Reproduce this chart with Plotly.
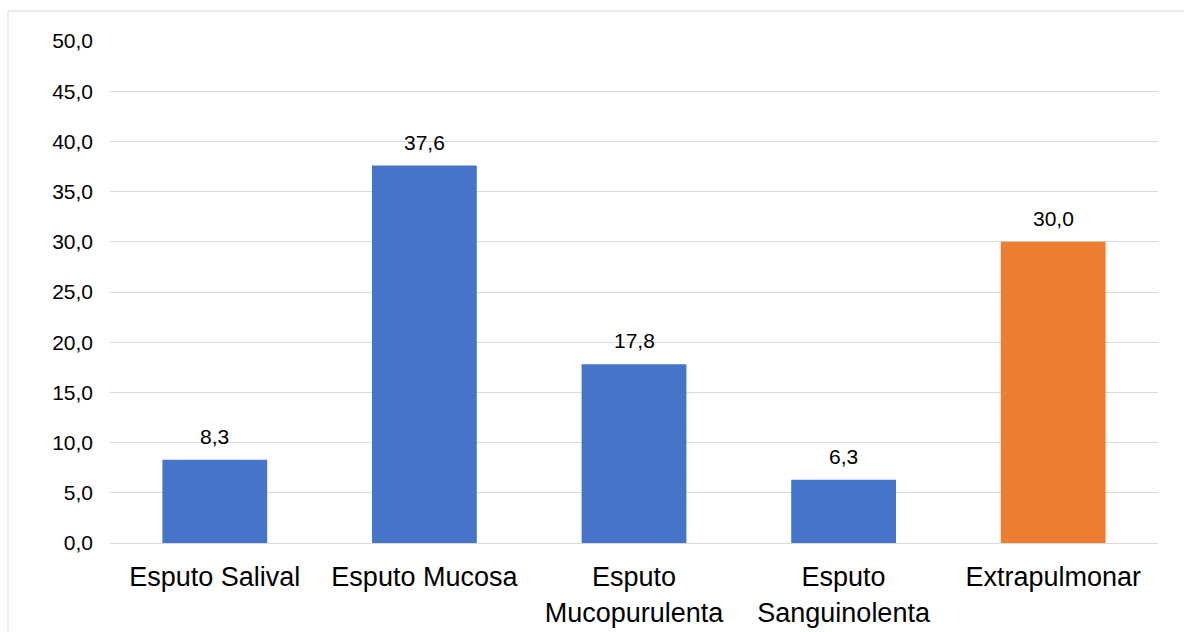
import plotly.graph_objects as go

categories = ["Esputo Salival", "Esputo Mucosa", "Esputo<br>Mucopurulenta", "Esputo<br>Sanguinolenta", "Extrapulmonar"]
values = [8.3, 37.6, 17.8, 6.3, 30.0]
bar_colors = ["#4674C8", "#4674C8", "#4674C8", "#4674C8", "#ED7D31"]

W, H = 1184, 632
L, R, T, B = 110, 26, 41, 89
pw, ph = W - L - R, H - T - B

fig = go.Figure(go.Bar(
    x=categories, y=values,
    marker=dict(color=bar_colors, line=dict(width=0)),
    showlegend=False,
))

for c, v in zip(categories, values):
    fig.add_annotation(x=c, y=v, text=f"{v:.1f}".replace(".", ","),
                       showarrow=False, yanchor="bottom", yshift=10,
                       font=dict(size=21, color="#000000"))

fig.update_layout(
    width=W, height=H,
    margin=dict(l=L, r=R, t=T, b=B, autoexpand=False),
    paper_bgcolor="white", plot_bgcolor="white",
    separators=", ",
    bargap=0.5,
    showlegend=False,
    font=dict(family="Liberation Sans, Arial", color="#000000"),
    shapes=[dict(type="rect", xref="paper", yref="paper",
                 x0=(8 - L) / pw, x1=(W + 20 - L) / pw,
                 y0=-0.3, y1=(H - B - 11) / ph,
                 line=dict(color="#D9D9D9", width=1), layer="below")],
)
fig.update_yaxes(range=[0, 50], dtick=5, tickformat=".1f",
                 showgrid=True, gridcolor="#D9D9D9", gridwidth=1,
                 zeroline=False, showline=False, automargin=False,
                 tickfont=dict(size=21, color="#000000"),
                 ticklabelstandoff=16)
fig.update_xaxes(showline=True, linecolor="#D9D9D9", linewidth=1,
                 automargin=False,
                 tickfont=dict(size=27, color="#000000"),
                 ticklabelstandoff=10)

fig.write_html("out.html")
